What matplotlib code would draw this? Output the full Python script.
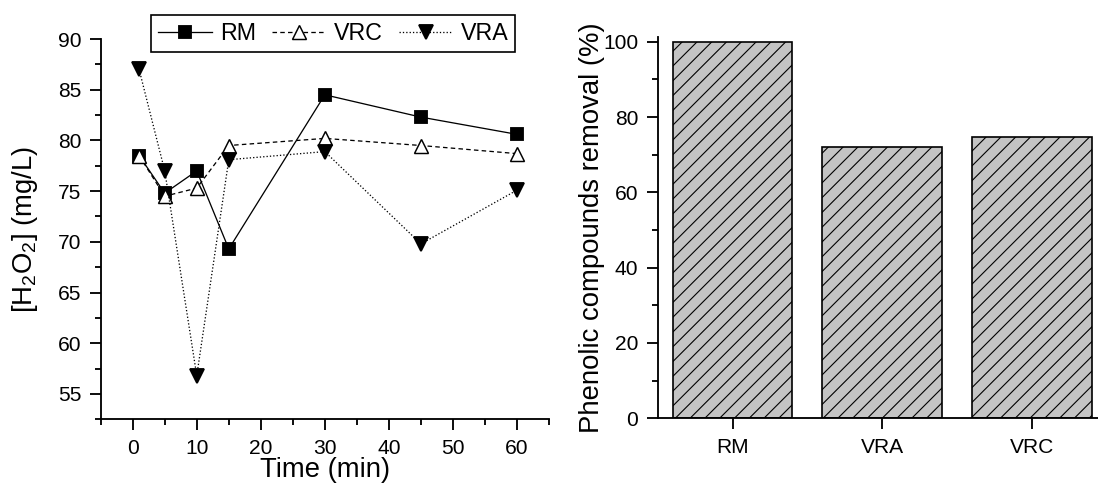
import matplotlib
matplotlib.use("Agg")
import matplotlib.pyplot as plt
from matplotlib.ticker import MultipleLocator

# ---- data ----
time_min = [1, 5, 10, 15, 30, 45, 60]
rm_h2o2 = [78.5, 74.8, 77.0, 69.3, 84.5, 82.3, 80.6]
vrc_h2o2 = [78.5, 74.5, 75.3, 79.5, 80.2, 79.5, 78.7]
vra_h2o2 = [87.0, 77.0, 56.8, 78.1, 78.9, 69.8, 75.1]

bar_categories = ["RM", "VRA", "VRC"]
bar_removal = [100.0, 72.0, 74.7]

x_ticks = [0, 10, 20, 30, 40, 50, 60]
y_ticks_left = [55, 60, 65, 70, 75, 80, 85, 90]
y_ticks_right = [0, 20, 40, 60, 80, 100]

# ---- style ----
plt.rcParams['font.family'] = ['Liberation Sans', 'DejaVu Sans']
plt.rcParams['mathtext.fontset'] = 'custom'
plt.rcParams['mathtext.rm'] = 'Liberation Sans'
plt.rcParams['mathtext.default'] = 'regular'
plt.rcParams['hatch.linewidth'] = 0.6
plt.rcParams['hatch.color'] = 'black'

DPI = 133
fig = plt.figure(figsize=(1098 / DPI, 486 / DPI), dpi=DPI)

tick_fs = 11.4
label_fs = 14.9
spine_lw = 1.0

def style_axes(ax):
    for s in ['top', 'right']:
        ax.spines[s].set_visible(False)
    for s in ['left', 'bottom']:
        ax.spines[s].set_linewidth(spine_lw)
    ax.tick_params(which='major', direction='out', length=6, width=spine_lw,
                   labelsize=tick_fs, pad=4.5)
    ax.tick_params(which='minor', direction='out', length=3.4, width=spine_lw)

# ---- left: line chart ----
ax1 = fig.add_axes([0.0917, 0.1372, 0.4083, 0.7825])
style_axes(ax1)
ms = 6.6
l_rm, = ax1.plot(time_min, rm_h2o2, color='black', lw=0.7, ls='-',
                 marker='s', ms=ms, mfc='black', mec='black', label='RM')
l_vrc, = ax1.plot(time_min, vrc_h2o2, color='black', lw=0.7, ls=(0, (3.5, 2.5)),
                  marker='^', ms=ms + 0.6, mfc='white', mec='black', mew=0.8, label='VRC')
l_vra, = ax1.plot(time_min, vra_h2o2, color='black', lw=0.7, ls=(0, (1, 1.6)),
                  marker='v', ms=ms + 0.6, mfc='black', mec='black', label='VRA')
ax1.set_xlim(-5, 65)
ax1.set_ylim(52.5, 90)
ax1.set_xticks(x_ticks)
ax1.xaxis.set_minor_locator(MultipleLocator(5))
ax1.set_yticks(y_ticks_left)
ax1.yaxis.set_minor_locator(MultipleLocator(2.5))
ax1.set_xlabel('Time (min)', fontsize=label_fs, va='top')
ax1.xaxis.set_label_coords(0.5, -0.1)
ax1.set_ylabel(r'[H$_2$O$_2$] (mg/L)', fontsize=label_fs)
ax1.yaxis.set_label_coords(-0.135, 0.5)

fig.legend(handles=[l_rm, l_vrc, l_vra], loc='upper left',
           bbox_to_anchor=(151 / 1098, 1 - 15 / 486), ncol=3, fontsize=12.6,
           frameon=True, fancybox=False, edgecolor='black', framealpha=1,
           numpoints=1, handlelength=2.3, handletextpad=0.35, columnspacing=0.7,
           borderpad=0.3, borderaxespad=0)\
    .get_frame().set_linewidth(0.9)

# ---- right: bar chart ----
ax2 = fig.add_axes([0.599, 0.1393, 0.4088, 0.7840])
style_axes(ax2)
ax2.bar(range(len(bar_categories)), bar_removal, width=0.8, color='#c4c4c4',
        edgecolor='black', linewidth=0.9, hatch='///')
ax2.set_xlim(-0.5, 2.5)
ax2.set_ylim(0, 101.2)
ax2.set_xticks(range(len(bar_categories)))
ax2.set_xticklabels(bar_categories)
ax2.set_yticks(y_ticks_right)
ax2.yaxis.set_minor_locator(MultipleLocator(10))
ax2.set_ylabel('Phenolic compounds removal (%)', fontsize=label_fs)
ax2.yaxis.set_label_coords(-0.118, 0.5)

fig.savefig('out.png', dpi=DPI, facecolor='white')
